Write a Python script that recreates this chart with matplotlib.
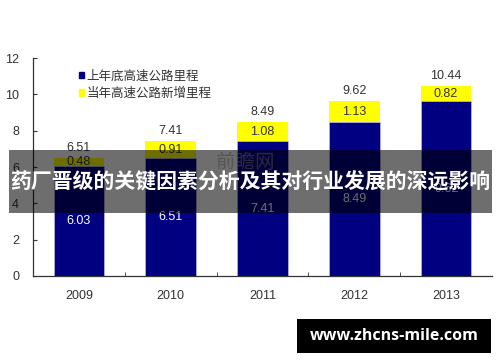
import matplotlib
matplotlib.use('Agg')
import matplotlib.pyplot as plt
from matplotlib.patches import Rectangle, Patch
import numpy as np

plt.rcParams['font.family'] = ['Liberation Sans', 'Noto Sans CJK SC', 'DejaVu Sans']

years = ['2009', '2010', '2011', '2012', '2013']
base = [6.03, 6.51, 7.41, 8.49, 9.62]      # 上年底高速公路里程
added = [0.48, 0.91, 1.08, 1.13, 0.82]     # 当年高速公路新增里程
totals = ['6.51', '7.41', '8.49', '9.62', '10.44']
yticks = [0, 2, 4, 6, 8, 10, 12]

navy = '#000080'
yellow = '#ffff00'
txt = '#333333'

fig = plt.figure(figsize=(5, 3.62), dpi=100)
ax = fig.add_axes([0.066, 0.2376, 0.918, 0.602])

x = np.arange(len(years))
ax.bar(x, base, width=0.55, color=navy, edgecolor='#c8c8e8', linewidth=0.4, zorder=2)
ax.bar(x, added, bottom=base, width=0.55, color=yellow, edgecolor='none', zorder=2)

for i in range(len(years)):
    ax.text(x[i], base[i] / 2, '%.2f' % base[i], ha='center', va='center',
            color='white', fontsize=9, zorder=3)
    ax.text(x[i], base[i] + added[i] / 2, '%.2f' % added[i], ha='center', va='center',
            color=txt, fontsize=9, zorder=3)
    ax.annotate(totals[i], (x[i], base[i] + added[i]), xytext=(0, 3),
                textcoords='offset points', ha='center', va='bottom',
                color=txt, fontsize=9)

ax.set_xlim(-0.5, 4.5)
ax.set_ylim(0, 12)
ax.set_yticks(yticks)
ax.set_xticks(x)
ax.set_xticklabels(years)
ax.set_xticks(np.arange(0.5, 4.5, 1), minor=True)
ax.tick_params(axis='x', which='major', length=0, labelsize=9, labelcolor=txt, pad=10)
ax.tick_params(axis='x', which='minor', direction='in', length=3, color='#333333')
ax.tick_params(axis='y', direction='in', length=3, labelsize=9, labelcolor=txt, pad=10, color='#333333')
for s in ['top', 'right']:
    ax.spines[s].set_visible(False)
for s in ['left', 'bottom']:
    ax.spines[s].set_color('#333333')
    ax.spines[s].set_linewidth(0.9)

handles = [Patch(color=navy), Patch(color=yellow)]
leg = ax.legend(handles, ['上年底高速公路里程', '当年高速公路新增里程'],
                loc='upper left', bbox_to_anchor=(0.075, 1.0), frameon=False,
                handlelength=0.45, handleheight=0.45, handletextpad=0.15,
                labelspacing=0.35, prop={'family': ['Noto Sans CJK SC'], 'size': 9})
for t in leg.get_texts():
    t.set_color(txt)

# watermark
fig.text(0.49, 0.55, '前瞻网', ha='center', va='center', fontsize=14,
         color='#b0a0a0', alpha=0.6, family=['Noto Sans CJK SC'])

# dark banner with title
fig.patches.append(Rectangle((9 / 500, 1 - 213 / 362), 483 / 500, 63 / 362,
                             transform=fig.transFigure, facecolor='black',
                             alpha=0.57, edgecolor='none', zorder=5))
fig.text(0.5015, 1 - 182 / 362, '药厂晋级的关键因素分析及其对行业发展的深远影响',
         ha='center', va='center', fontsize=15, fontweight='bold', color='white',
         family=['Noto Sans CJK SC'], zorder=6)

# site box
fig.patches.append(Rectangle((297 / 500, 1 - 353 / 362), 194 / 500, 34 / 362,
                             transform=fig.transFigure, facecolor='black',
                             edgecolor='none', zorder=5))
fig.text(394 / 500, 1 - 336 / 362, 'www.zhcns-mile.com', ha='center', va='center',
         fontsize=11.5, fontweight='bold', color='white', family=['Open Sans'], zorder=6)

fig.savefig('out.png', dpi=100)
